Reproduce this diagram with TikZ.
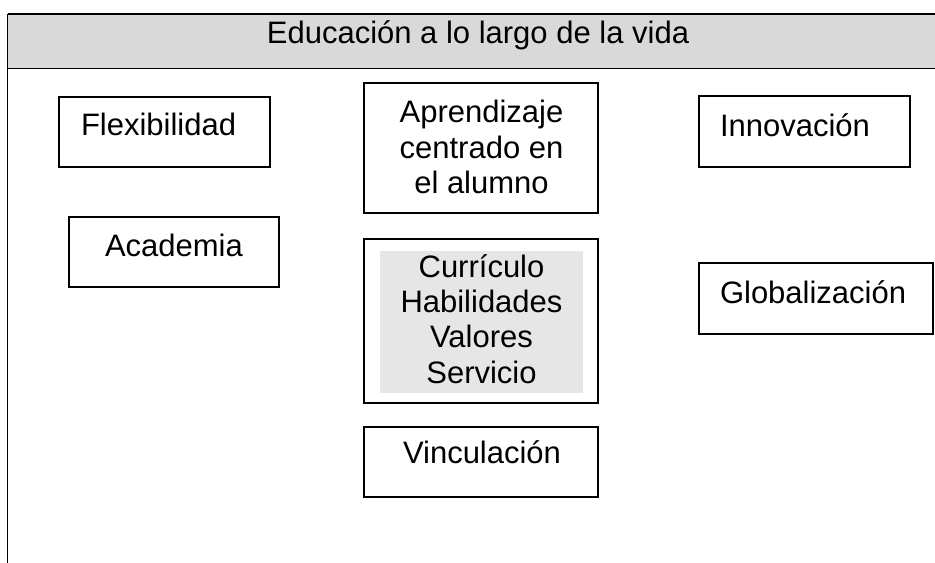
\documentclass[tikz,border=0pt]{standalone}
\usepackage{fontspec}
\setmainfont{Liberation Sans}
\definecolor{bandgray}{HTML}{D9D9D9}
\definecolor{innergray}{HTML}{E6E6E6}
\begin{document}
\begin{tikzpicture}[x=0.75pt,y=-0.75pt,
  every node/.style={inner sep=0pt,outer sep=0pt},
  frame/.style={draw=black,line width=0.8pt,fill=white,rectangle},
  lbl/.style={font=\fontsize{23.25pt}{26.6pt}\selectfont,anchor=base west},
  clbl/.style={font=\fontsize{23.25pt}{26.6pt}\selectfont,anchor=base},
  bandline/.style={draw=black,line width=1pt}]
\useasboundingbox (0,0) rectangle (935,563);
% title band
\fill[bandgray] (7.5,14) rectangle (935,68.5);
\coordinate (bandTL) at (7.5,14);
\coordinate (bandTR) at (935,14);
\coordinate (bandBL) at (7.5,68.5);
\coordinate (bandBR) at (935,68.5);
\coordinate (leftbottom) at (7.5,563);
\draw[bandline] (bandTL) -- (bandTR);
\draw[bandline] (bandBL) -- (bandBR);
\draw[bandline] (bandTL) -- (leftbottom);
\node[clbl] (title) at (478,44) {Educación a lo largo de la vida};
% left column
\node[frame,minimum width=158.25pt,minimum height=52.5pt] (flexbox) at (164.5,132) {};
\node[lbl] (flex) at (81,136) {Flexibilidad};
\node[frame,minimum width=157.5pt,minimum height=52.5pt] (acadbox) at (174,252) {};
\node[lbl] (acad) at (105,256) {Academia};
% middle column
\node[frame,minimum width=175.5pt,minimum height=97.5pt] (aprbox) at (481,148) {};
\node[clbl] (apr) at (481.5,123) {\begin{tabular}[t]{@{}c@{}}Aprendizaje\\centrado en\\el alumno\end{tabular}};
\node[frame,minimum width=175.5pt,minimum height=123pt] (curbox) at (481,321) {};
\node[fill=innergray,minimum width=152.25pt,minimum height=106.5pt] (curin) at (481.5,322) {};
\node[clbl] (cur) at (481.5,277) {\begin{tabular}[t]{@{}c@{}}Currículo\\Habilidades\\Valores\\Servicio\end{tabular}};
\node[frame,minimum width=175.5pt,minimum height=52.5pt] (vinbox) at (481,462) {};
\node[clbl] (vin) at (482,463) {Vinculación};
% right column
\node[frame,minimum width=158.25pt,minimum height=53.25pt] (innbox) at (804.5,131.5) {};
\node[lbl] (inn) at (720,137) {Innovación};
\node[frame,minimum width=175.5pt,minimum height=53.25pt] (globox) at (816,298.5) {};
\node[lbl] (glo) at (720,303) {Globalización};
\end{tikzpicture}
\end{document}
